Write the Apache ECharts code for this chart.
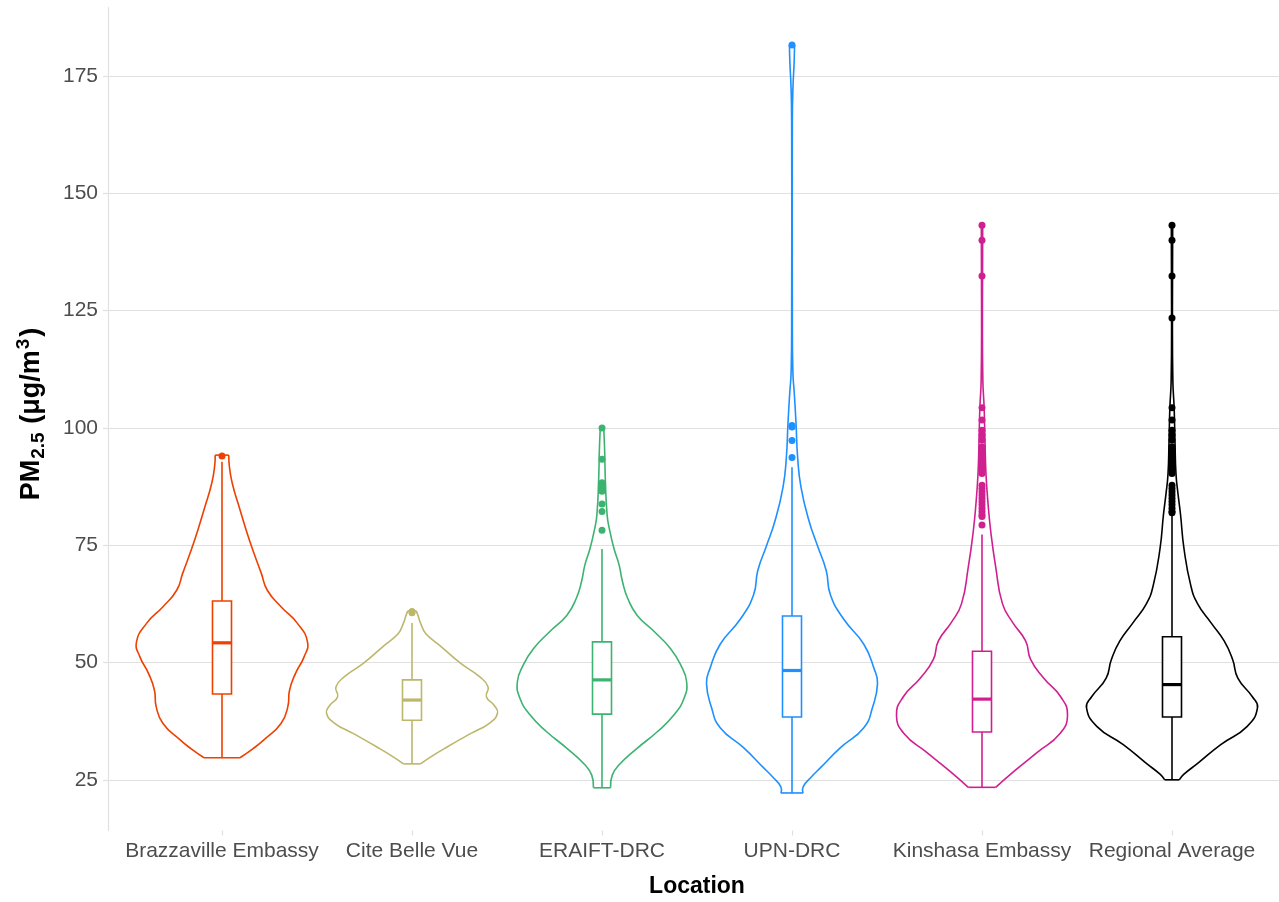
<!DOCTYPE html>
<html>
<head>
<meta charset="utf-8">
<title>PM2.5 by location</title>
<script src="https://cdn.jsdelivr.net/npm/echarts@6.0.0/dist/echarts.min.js"></script>
<style>
  html, body { margin: 0; padding: 0; background: #fff; }
  #chart { width: 1279px; height: 902px; }
</style>
</head>
<body>
<div id="chart"></div>
<script>
// locations along the x axis
var locations = ['Brazzaville Embassy', 'Cite Belle Vue', 'ERAIFT-DRC', 'UPN-DRC', 'Kinshasa Embassy', 'Regional Average'];
var colors = ['#EE4000', '#BDB76B', '#3CB371', '#1E90FF', '#D02090', '#000000'];
var yTicks = [25, 50, 75, 100, 125, 150, 175];

// violin outlines: [PM2.5 value, relative half width]
var brazzavilleViolin = [[29.7,0.21],[31.6,0.36],[33.5,0.49],[37.0,0.69],[40.6,0.77],[44.1,0.79],[47.7,0.86],[51.2,0.96],[54.4,1.0],[58.4,0.88],[61.9,0.69],[65.4,0.53],[69.0,0.46],[76.1,0.32],[83.2,0.20],[88.2,0.12],[92.0,0.085],[94.2,0.08]];
var citeViolin = [[28.4,0.10],[29.9,0.22],[32.1,0.42],[34.9,0.69],[37.0,0.90],[39.2,1.0],[40.9,0.96],[42.7,0.87],[44.8,0.89],[47.0,0.79],[49.8,0.57],[53.4,0.34],[56.2,0.16],[58.4,0.10],[60.0,0.07],[61.0,0.05]];
var eraiftViolin = [[23.3,0.10],[26.0,0.12],[28.2,0.20],[31.7,0.41],[35.3,0.65],[38.8,0.84],[42.4,0.96],[45.9,0.99],[49.5,0.92],[53.0,0.80],[56.6,0.61],[60.1,0.41],[63.7,0.30],[67.2,0.24],[70.8,0.20],[74.3,0.14],[78.6,0.085],[81.4,0.06],[88.5,0.04],[95.7,0.03],[100.0,0.02]];
var upnViolin = [[22.2,0.13],[23.5,0.13],[25.5,0.22],[27.7,0.34],[31.9,0.57],[36.1,0.84],[40.3,0.94],[45.5,1.0],[48.7,0.96],[53.9,0.84],[59.1,0.61],[64.4,0.45],[69.6,0.40],[74.8,0.30],[80.1,0.20],[87.4,0.105],[93.7,0.066],[101.0,0.047],[107.3,0.027],[112.0,0.01],[125.0,0.004],[165.0,0.004],[172.0,0.01],[178.0,0.025],[181.6,0.03]];
var kinshasaViolin = [[23.4,0.16],[26.9,0.38],[30.9,0.65],[34.8,0.91],[38.8,1.0],[42.7,0.92],[46.7,0.72],[50.6,0.57],[54.6,0.51],[58.5,0.36],[62.5,0.24],[70.4,0.16],[77.5,0.105],[84.0,0.07],[90.1,0.047],[97.0,0.035],[104.3,0.025],[110.0,0.01],[125.0,0.005],[143.2,0.008]];
var regionalViolin = [[25.0,0.085],[26.2,0.14],[28.5,0.30],[32.5,0.57],[36.4,0.88],[40.4,1.0],[42.7,0.94],[46.7,0.77],[50.6,0.71],[54.6,0.61],[58.5,0.455],[62.5,0.30],[66.4,0.22],[74.3,0.14],[81.5,0.10],[86.0,0.07],[90.1,0.047],[97.0,0.035],[104.3,0.025],[110.0,0.01],[125.0,0.005],[143.2,0.008]];
var violins = [brazzavilleViolin, citeViolin, eraiftViolin, upnViolin, kinshasaViolin, regionalViolin];

// boxplot stats: [lower whisker, Q1, median, Q3, upper whisker]
var boxStats = [
  [29.7, 43.3, 54.2, 63.1, 92.8],
  [28.4, 37.7, 42.0, 46.3, 58.4],
  [23.3, 39.0, 46.3, 54.4, 74.2],
  [22.2, 38.4, 48.3, 59.9, 91.6],
  [23.4, 35.2, 42.2, 52.4, 77.3],
  [25.0, 38.4, 45.3, 55.5, 81.5]
];

// outlier points
var brazzavilleOut = [94.0];
var citeOut = [60.6, 60.9];
var eraiftOut = [100.0, 93.3, 88.3, 87.8, 87.2, 86.5, 83.8, 82.2, 78.2];
var upnOut = [181.6, 100.5, 100.2, 97.3, 93.7];
var kinshasaOut = [143.2, 140.0, 132.4, 104.3, 101.7, 99.5, 98.5, 97.4, 96.0, 95.3, 94.6, 93.9, 93.2, 92.5, 91.8, 91.1, 90.3, 87.8, 87.1, 86.4, 85.7, 85.0, 84.3, 83.6, 82.9, 82.2, 81.5, 81.1, 79.3];
var regionalOut = [143.2, 140.0, 132.4, 123.4, 104.3, 101.7, 99.5, 98.5, 97.4, 96.0, 95.3, 94.6, 93.9, 93.2, 92.5, 91.8, 91.1, 90.3, 87.8, 87.1, 86.4, 85.7, 85.0, 84.3, 83.6, 82.9, 82.2, 81.9];
var outliers = [brazzavilleOut, citeOut, eraiftOut, upnOut, kinshasaOut, regionalOut];

var halfViolin = 0.45;
var halfBox = 0.05;
var gridColor = '#e0e0e0';

var myChart = echarts.init(document.getElementById('chart'));

var series = [];
locations.forEach(function (name, i) {
  var xpos = i + 1;
  var col = colors[i];
  // violin outline
  series.push({
    type: 'custom',
    name: name,
    z: 2,
    silent: true,
    data: [[xpos, boxStats[i][2]]],
    renderItem: function (params, api) {
      var prof = violins[i];
      var right = prof.map(function (p) { return api.coord([xpos + p[1] * halfViolin, p[0]]); });
      var left = prof.map(function (p) { return api.coord([xpos - p[1] * halfViolin, p[0]]); });
      var style = { stroke: col, lineWidth: 1.6, fill: null };
      return {
        type: 'group',
        children: [
          { type: 'polyline', shape: { points: right, smooth: 0.5 }, style: style },
          { type: 'polyline', shape: { points: left, smooth: 0.5 }, style: style },
          { type: 'line', shape: { x1: left[0][0], y1: left[0][1], x2: right[0][0], y2: right[0][1] }, style: style },
          { type: 'line', shape: { x1: left[left.length - 1][0], y1: left[left.length - 1][1], x2: right[right.length - 1][0], y2: right[right.length - 1][1] }, style: style }
        ]
      };
    }
  });
  // box and whiskers
  series.push({
    type: 'custom',
    name: name + ' box',
    z: 3,
    silent: true,
    data: [[xpos, boxStats[i][2]]],
    renderItem: function (params, api) {
      var s = boxStats[i];
      var tl = api.coord([xpos - halfBox, s[3]]);
      var br = api.coord([xpos + halfBox, s[1]]);
      var lo = api.coord([xpos, s[0]]);
      var hi = api.coord([xpos, s[4]]);
      var medL = api.coord([xpos - halfBox, s[2]]);
      var medR = api.coord([xpos + halfBox, s[2]]);
      var style = { stroke: col, lineWidth: 1.6, fill: null };
      return {
        type: 'group',
        children: [
          { type: 'line', shape: { x1: hi[0], y1: hi[1], x2: hi[0], y2: tl[1] }, style: style },
          { type: 'line', shape: { x1: lo[0], y1: br[1], x2: lo[0], y2: lo[1] }, style: style },
          { type: 'rect', shape: { x: tl[0], y: tl[1], width: br[0] - tl[0], height: br[1] - tl[1] }, style: { stroke: col, lineWidth: 1.6, fill: '#fff' } },
          { type: 'line', shape: { x1: medL[0], y1: medL[1], x2: medR[0], y2: medR[1] }, style: { stroke: col, lineWidth: 3.2 } }
        ]
      };
    }
  });
  // outliers
  series.push({
    type: 'scatter',
    name: name + ' outliers',
    z: 4,
    silent: true,
    symbolSize: 7,
    itemStyle: { color: col, opacity: 1 },
    data: outliers[i].map(function (v) { return [xpos, v]; })
  });
});

myChart.setOption({
  animation: false,
  backgroundColor: '#ffffff',
  grid: {
    left: 108,
    right: -7,
    top: 7.5,
    bottom: 71.5,
    containLabel: false,
    outerBoundsMode: 'none'
  },
  xAxis: {
    type: 'value',
    min: 0.4,
    max: 6.6,
    name: 'Location',
    nameLocation: 'middle',
    nameGap: 45,
    nameTextStyle: { fontFamily: 'Liberation Sans', fontWeight: 'bold', fontSize: 23, color: '#000' },
    axisLine: { show: false },
    axisTick: { show: true, length: 5, lineStyle: { color: gridColor, width: 1.2 }, customValues: [1, 2, 3, 4, 5, 6] },
    axisLabel: {
      customValues: [1, 2, 3, 4, 5, 6],
      formatter: function (v) { return locations[Math.round(v) - 1]; },
      fontFamily: 'Liberation Sans',
      fontSize: 21,
      color: '#4d4d4d',
      margin: 10
    },
    splitLine: { show: false }
  },
  yAxis: {
    type: 'value',
    min: 14.2,
    max: 189.6,
    name: '{t|PM}{sub|2.5}{t| (μg/m}{sup|3}{t|)}',
    nameLocation: 'middle',
    nameGap: 59,
    nameRotate: 90,
    nameTextStyle: {
      fontFamily: 'Liberation Sans',
      fontWeight: 'bold',
      fontSize: 27,
      color: '#000',
      padding: [0, 0, 0, 10],
      rich: {
        t: { fontFamily: 'Liberation Sans', fontWeight: 'bold', fontSize: 27, color: '#000' },
        sub: { fontFamily: 'Liberation Sans', fontSize: 19, color: '#000', padding: [14, 1, 0, 1] },
        sup: { fontFamily: 'Liberation Sans', fontWeight: 'bold', fontSize: 19, color: '#000', padding: [0, 2, 16, 1] }
      }
    },
    axisLine: { show: true, lineStyle: { color: gridColor, width: 1.2 } },
    axisTick: { show: true, length: 5, lineStyle: { color: gridColor, width: 1.2 }, customValues: yTicks },
    axisLabel: {
      customValues: yTicks,
      fontFamily: 'Liberation Sans',
      fontSize: 21,
      color: '#4d4d4d',
      margin: 10
    },
    splitLine: { show: true, lineStyle: { color: gridColor, width: 1.2 } }
  },
  series: series
});
</script>
</body>
</html>
